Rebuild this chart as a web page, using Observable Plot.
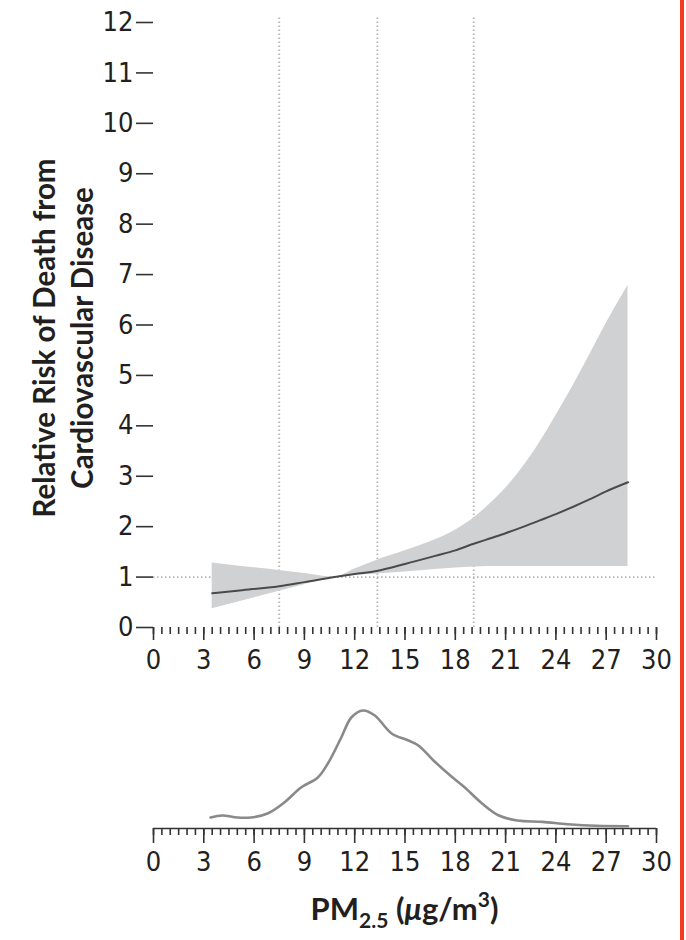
<!DOCTYPE html>
<html>
<head>
<meta charset="utf-8">
<script src="https://cdn.jsdelivr.net/npm/d3@7"></script>
<script src="https://cdn.jsdelivr.net/npm/@observablehq/plot@0.6"></script>
<style>
  body { margin: 0; background: #fff; }
  #wrap { position: relative; width: 686px; height: 940px; overflow: hidden; background: #fff; }
  #top { position: absolute; left: 0; top: 0; }
  #bottom { position: absolute; left: 0; top: 680px; }
  #xtitle { position: absolute; left: 153px; width: 503px; top: 889px; text-align: center;
            font: bold 31px Lato, "Open Sans", sans-serif; color: #231f20; line-height: 38px; }
  #xtitle sub { font-size: 21px; vertical-align: -8px; line-height: 0; }
  #xtitle sup { font-size: 21px; vertical-align: 13px; line-height: 0; }
  #redline { position: absolute; left: 680px; top: 0; width: 4px; height: 940px; background: #f23a1c; }
</style>
</head>
<body>
<div id="wrap">
  <div id="top"></div>
  <div id="bottom"></div>
  <div id="xtitle">PM<sub>2.5</sub> (<i>μ</i>g/m<sup>3</sup>)</div>
  <div id="redline"></div>
</div>
<script>
// ---- Data ----
const pm        = [3.5, 5, 7.5, 9, 10.8, 12, 13.3, 15, 16.8, 18, 19.1, 20, 21, 22, 23, 24, 25, 26, 27, 28.3];
const rrCentral = [0.68, 0.73, 0.82, 0.90, 1.00, 1.06, 1.12, 1.26, 1.42, 1.53, 1.66, 1.76, 1.87, 1.99, 2.12, 2.25, 2.39, 2.54, 2.70, 2.88];
const rrUpper   = [1.28, 1.22, 1.13, 1.07, 1.00, 1.16, 1.33, 1.52, 1.74, 1.93, 2.17, 2.43, 2.76, 3.17, 3.65, 4.20, 4.78, 5.40, 6.03, 6.79];
const rrLower   = [0.37, 0.50, 0.72, 0.85, 1.00, 1.03, 1.06, 1.10, 1.15, 1.18, 1.20, 1.21, 1.21, 1.21, 1.21, 1.21, 1.21, 1.21, 1.21, 1.21];

const refLinesPM = [7.5, 13.35, 19.1];   // vertical dotted reference lines
const refRR = [1];                        // horizontal dotted reference line

const densityX = [3.4, 4.1, 5.0, 5.8, 6.8, 7.8, 8.8, 9.8, 10.4, 11.2, 11.8, 12.5, 13.2, 14.2, 15.2, 15.8, 16.7, 17.7, 18.5, 19.6, 20.6, 21.7, 23.2, 24.7, 26.4, 28.3];
const densityY = [0.011, 0.013, 0.011, 0.011, 0.015, 0.026, 0.041, 0.051, 0.065, 0.091, 0.111, 0.118, 0.113, 0.095, 0.088, 0.083, 0.068, 0.053, 0.042, 0.025, 0.013, 0.008, 0.0066, 0.0043, 0.0027, 0.0023];

const yTicks  = [0, 1, 2, 3, 4, 5, 6, 7, 8, 9, 10, 11, 12];
const xMajor  = [0, 3, 6, 9, 12, 15, 18, 21, 24, 27, 30];
const xMinor  = d3.range(0, 30.001, 0.5);

const yTitle = "Relative Risk of Death from\nCardiovascular Disease";

// ---- Tables ----
const riskRows = pm.map((x, i) => ({pm: x, rr: rrCentral[i], lo: rrLower[i], hi: rrUpper[i]}));
const densRows = densityX.map((x, i) => ({pm: x, d: densityY[i]}));

const tickFont = "'DejaVu Sans Condensed', 'DejaVu Sans', sans-serif";
const ink = "#231f20";

const topPlot = Plot.plot({
  width: 686, height: 690,
  marginLeft: 153, marginRight: 30, marginTop: 22, marginBottom: 63,
  x: {domain: [0, 30]},
  y: {domain: [0, 12]},
  style: {fontFamily: tickFont, fontSize: "27px", color: ink, background: "transparent", overflow: "visible"},
  marks: [
    Plot.ruleX(refLinesPM, {y1: 0, y2: 12.1, stroke: "#b5b5b5", strokeWidth: 1.8, strokeDasharray: "1.5 2.5"}),
    Plot.ruleY(refRR, {x1: 0, x2: 30, stroke: "#b5b5b5", strokeWidth: 1.8, strokeDasharray: "1.5 2.5"}),
    Plot.areaY(riskRows, {x: "pm", y1: "lo", y2: "hi", fill: "#d0d1d3", curve: "monotone-x"}),
    Plot.lineY(riskRows, {x: "pm", y: "rr", stroke: "#4a4a4a", strokeWidth: 2, curve: "monotone-x"}),
    Plot.axisY({ticks: yTicks, tickSize: 17, tickPadding: 3, strokeWidth: 1.6, stroke: "#333", label: null, fontSize: 27}),
    Plot.axisX({ticks: xMajor, tickSize: 13, tickPadding: 9, strokeWidth: 1.6, stroke: "#333", label: null, fontSize: 27}),
    Plot.axisX({ticks: xMinor, tickSize: 7, tickFormat: () => "", strokeWidth: 1.6, stroke: "#333", label: null}),
    Plot.text([yTitle], {frameAnchor: "left", dx: -92, dy: 13, rotate: -90, fontSize: 29.5, fontWeight: "bold",
      fontFamily: "Lato, 'Open Sans', sans-serif", lineHeight: 1.32, textAnchor: "middle", lineAnchor: "middle", fill: ink})
  ]
});
document.getElementById("top").appendChild(topPlot);

const bottomPlot = Plot.plot({
  width: 686, height: 200,
  marginLeft: 153, marginRight: 30, marginTop: 10, marginBottom: 52,
  x: {domain: [0, 30]},
  y: {domain: [0, 0.138], axis: null},
  style: {fontFamily: tickFont, fontSize: "27px", color: ink, background: "transparent", overflow: "visible"},
  marks: [
    Plot.ruleY([0], {stroke: "#333", strokeWidth: 1.6}),
    Plot.lineY(densRows, {x: "pm", y: "d", stroke: "#8a8a8a", strokeWidth: 2.6, curve: "catmull-rom"}),
    Plot.axisX({ticks: xMajor, tickSize: 15, tickPadding: 8, strokeWidth: 1.6, stroke: "#333", label: null, fontSize: 27}),
    Plot.axisX({ticks: xMinor, tickSize: 7, tickFormat: () => "", strokeWidth: 1.6, stroke: "#333", label: null})
  ]
});
document.getElementById("bottom").appendChild(bottomPlot);
</script>
</body>
</html>
